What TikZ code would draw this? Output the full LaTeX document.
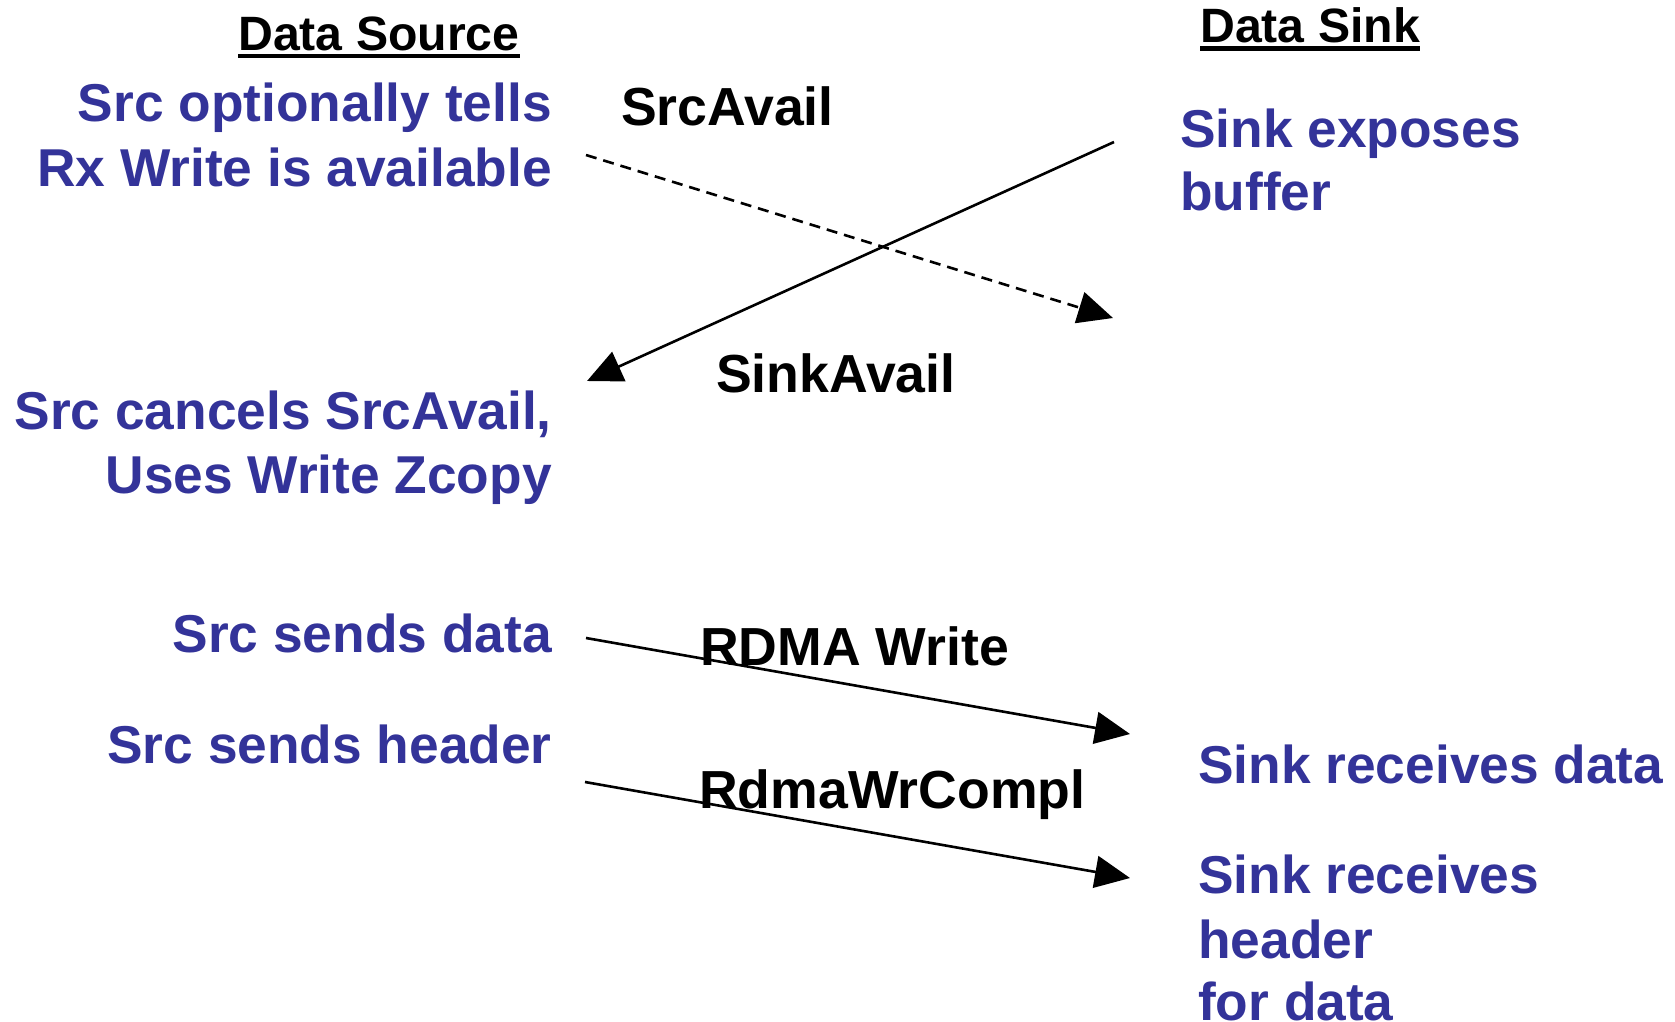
\documentclass[tikz,border=0pt]{standalone}
\usepackage{fontspec}
\setmainfont{Liberation Sans}
\usetikzlibrary{arrows.meta}
\definecolor{noteblue}{RGB}{51,51,153}
\begin{document}
\begin{tikzpicture}[x=1pt,y=-1pt,
  note/.style={inner sep=0pt, text=noteblue, font=\fontsize{53.3}{64}\selectfont\bfseries},
  msg/.style={inner sep=0pt, font=\fontsize{53.6}{64}\selectfont\bfseries},
  head/.style={inner sep=0pt, font=\fontsize{48.2}{56}\selectfont\bfseries},
  flow/.style={line width=2.6pt, -{Triangle[length=35pt,width=32pt]}},
  optflow/.style={flow, dash pattern=on 11pt off 7pt},
]
\fill[white] (0,0) rectangle (1675,1022);
\useasboundingbox (0,0) rectangle (1675,1022);

% column headings
\node[head, anchor=base west] (hsrc) at (238,51) {Data Source};
\node[head, anchor=base west] (hsink) at (1200,43) {Data Sink};
\draw[line width=4.5pt] ([yshift=-5pt]hsrc.base west) -- ([yshift=-5pt]hsrc.base east);
\draw[line width=4.5pt] ([yshift=-5.5pt]hsink.base west) -- ([yshift=-5.5pt]hsink.base east);

% source side events
\node[note, anchor=base east] (s1a) at (552,122) {Src optionally tells};
\node[note, anchor=base east] (s1b) at (552,186) {Rx Write is available};
\node[note, anchor=base east] (s2a) at (552,429) {Src cancels SrcAvail,};
\node[note, anchor=base east] (s2b) at (552,493) {Uses Write Zcopy};
\node[note, anchor=base east] (s3)  at (552,652) {Src sends data};
\node[note, anchor=base east] (s4)  at (552,763) {Src sends header};

% sink side events
\node[note, anchor=base west] (k1a) at (1180,147) {Sink exposes};
\node[note, anchor=base west] (k1b) at (1180,210) {buffer};
\node[note, anchor=base west] (k2)  at (1198,783) {Sink receives data};
\node[note, anchor=base west] (k3a) at (1198,893) {Sink receives};
\node[note, anchor=base west] (k3b) at (1198,958) {header};
\node[note, anchor=base west] (k3c) at (1198,1020) {for data};

% message names
\node[msg, anchor=base west] (m1) at (621,126) {SrcAvail};
\node[msg, anchor=base west] (m2) at (716,392) {SinkAvail};
\node[msg, anchor=base west] (m3) at (700,665) {RDMA Write};
\node[msg, anchor=base west] (m4) at (699,808) {RdmaWrCompl};

% message arrows
\coordinate (a1s) at (586,155);  \coordinate (a1e) at (1113,318);
\coordinate (a2s) at (1114,142); \coordinate (a2e) at (587,381);
\coordinate (a3s) at (586,638);  \coordinate (a3e) at (1130,734);
\coordinate (a4s) at (585,782);  \coordinate (a4e) at (1130,878);

\draw[optflow] (a1s) -- (a1e);
\draw[flow] (a2s) -- (a2e);
\draw[flow] (a3s) -- (a3e);
\draw[flow] (a4s) -- (a4e);
\end{tikzpicture}
\end{document}
